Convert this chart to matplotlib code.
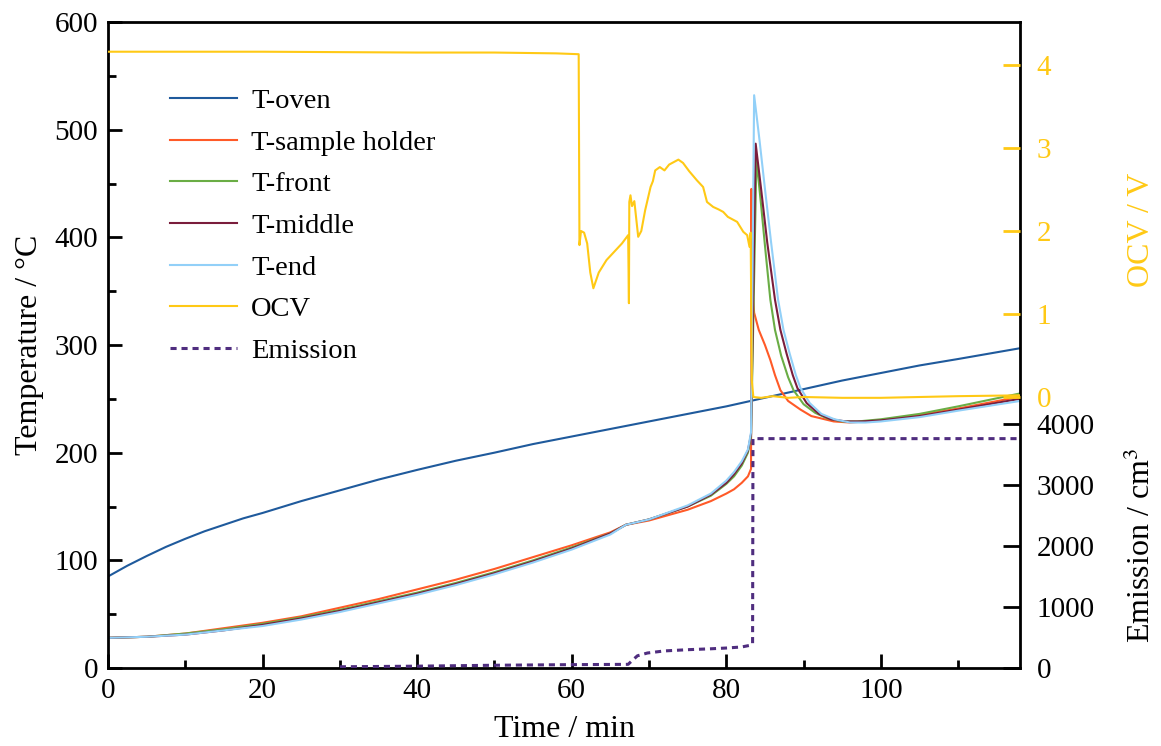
import matplotlib
matplotlib.use("Agg")
import matplotlib.pyplot as plt
from matplotlib.ticker import MultipleLocator

plt.rcParams['font.family'] = ['Liberation Serif', 'DejaVu Serif']
plt.rcParams['mathtext.fontset'] = 'stix'

# ---------------- data ----------------
oven_t = [0, 2.5, 5, 7.5, 10, 12.5, 15, 17.5, 20, 25, 30, 35, 40, 45, 50, 55, 60, 65, 70, 75, 80,
          85, 90, 95, 100, 105, 110, 118]
oven_v = [85, 95, 104, 112.5, 120, 127, 133, 139, 144, 155, 165, 175, 184, 192.5, 200, 208, 215,
          222, 229, 236, 243, 251, 259, 267, 274, 281, 287, 297]

pre_t = [0, 5, 10, 15, 20, 25, 30, 35, 40, 45, 50, 55, 60, 65, 67, 70, 75, 78, 80, 81, 82, 82.8, 83.2]
holder_pre = [28, 29, 32, 37, 42, 48, 56, 64, 73, 82, 92, 103, 114, 126, 133, 137, 147, 155, 162, 166, 172, 178, 185]
front_pre = [28, 29, 32, 36, 41, 47, 54, 62, 70, 79, 89, 100, 112, 125, 133, 138, 150, 160, 171, 178, 188, 200, 215]
middle_pre = [28, 29, 31, 35, 40, 46, 53, 61, 69, 78, 88, 99, 111, 125, 133, 138, 150, 161, 172, 180, 190, 202, 217]
end_pre = [28, 29, 31, 35, 39, 45, 52, 60, 68, 77, 87, 98, 110, 124, 133, 138, 151, 162, 174, 182, 192, 203, 219]

holder_post_t = [83.25, 83.35, 83.6, 84.2, 85.0, 85.7, 86.3, 87.0, 88.0, 89.6, 91.0, 93.9, 96, 100, 105, 110, 118]
holder_post_v = [445, 355, 330, 314, 300, 286, 272, 258, 248, 240, 234, 229, 228, 230, 235, 241, 252]

front_post_t = [83.9, 84.5, 85.1, 85.7, 86.3, 87.1, 88.0, 88.7, 90.0, 91.5, 93, 95, 97, 100, 105, 110, 118]
front_post_v = [473, 430, 385, 342, 314, 290, 270, 258, 245, 237, 232, 229, 229, 231, 236, 243, 255]

middle_post_t = [83.8, 84.5, 85.3, 86.3, 87.0, 87.8, 88.6, 89.2, 90.4, 92, 93.5, 95.5, 97.5, 100, 105, 110, 118]
middle_post_v = [487, 445, 395, 342, 314, 292, 272, 260, 246, 236, 231, 229, 229, 230, 234, 240, 250]

end_post_t = [83.6, 84.3, 85.0, 85.8, 86.7, 87.4, 88.2, 89.0, 89.6, 90.8, 92.3, 94, 96, 98, 100, 105, 110, 118]
end_post_v = [532, 490, 445, 395, 342, 314, 292, 272, 260, 246, 236, 231, 228, 228, 229, 233, 239, 248]

ocv_t = [0, 10, 20, 30, 40, 50, 58, 60.9, 61.0, 61.2, 61.6, 62.0, 62.4, 62.8, 63.5, 64.5, 65.5,
         66.5, 67.3, 67.4, 67.45, 67.6, 67.8, 68.1, 68.6, 69.0, 69.5, 70.2, 70.5, 70.8, 71.4, 72.0,
         72.6, 73.2, 73.8, 74.4, 75.2, 76.2, 77.0, 77.5, 78.3, 79.0, 79.6, 80.2, 81.4, 82.2, 82.7,
         83.0, 83.15, 83.3, 83.5, 84.5, 86, 88, 90, 95, 100, 105, 110, 118]
ocv_v = [4.16, 4.16, 4.16, 4.155, 4.15, 4.15, 4.14, 4.13, 1.83, 2.0, 1.98, 1.85, 1.5, 1.31, 1.5, 1.65, 1.75,
         1.85, 1.95, 1.13, 2.35, 2.43, 2.30, 2.36, 1.93, 2.0, 2.25, 2.53, 2.6, 2.73, 2.77, 2.73,
         2.80, 2.83, 2.86, 2.82, 2.72, 2.61, 2.53, 2.35, 2.29, 2.26, 2.23, 2.17, 2.11, 1.99, 1.95,
         1.81, 1.98, 0.2, 0.0, -0.01, 0.01, -0.01, 0.0, -0.01, -0.01, 0.0, 0.01, 0.02]

em_t = [30, 40, 50, 60, 67.3, 67.8, 68.5, 69.8, 72, 75, 78, 80.1, 82, 83.0, 83.4, 83.45, 90, 118]
em_v = [20, 30, 45, 55, 60, 120, 200, 246, 280, 300, 315, 328, 345, 370, 393, 3760, 3760, 3760]

c_oven = '#1f5a9c'
c_holder = '#ff5a28'
c_front = '#6aad45'
c_middle = '#7a1d3c'
c_end = '#92d0f8'
c_ocv = '#ffc915'
c_em = '#4f2d7f'

# ---------------- figure ----------------
fig = plt.figure(figsize=(11.61, 7.46), dpi=100)
ax = fig.add_axes([108/1161, 1-668/746, (1020-108)/1161, (668-22)/746])

l1, = ax.plot(oven_t, oven_v, color=c_oven, lw=1.5, label='T-oven')
l2, = ax.plot(pre_t + holder_post_t, holder_pre + holder_post_v, color=c_holder, lw=1.5, label='T-sample holder')
l3, = ax.plot(pre_t + front_post_t, front_pre + front_post_v, color=c_front, lw=1.5, label='T-front')
l4, = ax.plot(pre_t + middle_post_t, middle_pre + middle_post_v, color=c_middle, lw=1.5, label='T-middle')
l5, = ax.plot(pre_t + end_post_t, end_pre + end_post_v, color=c_end, lw=1.5, label='T-end')

ax.set_xlim(0, 118)
ax.set_ylim(0, 600)
ax.xaxis.set_major_locator(MultipleLocator(20))
ax.xaxis.set_minor_locator(MultipleLocator(10))
ax.yaxis.set_major_locator(MultipleLocator(100))
ax.yaxis.set_minor_locator(MultipleLocator(50))
ax.tick_params(which='major', direction='in', length=10, width=2, labelsize=21, pad=7,
               top=False, right=False)
ax.tick_params(which='minor', direction='in', length=6, width=2, top=False, right=False)
for s in ax.spines.values():
    s.set_linewidth(2)
ax.set_xlabel('Time / min', fontsize=23, labelpad=8)
ax.set_ylabel('Temperature / °C', fontsize=23, labelpad=8)

# OCV axis
ax2 = ax.twinx()
l6, = ax2.plot(ocv_t, ocv_v, color=c_ocv, lw=1.5, label='OCV')
ax2.set_ylim(-3.265, 4.518)
ax2.set_yticks([0, 1, 2, 3, 4])
ax2.tick_params(axis='y', direction='in', length=12, width=2, colors=c_ocv,
                labelcolor=c_ocv, labelsize=21, pad=12)
for s in ax2.spines.values():
    s.set_visible(False)
ax2.text(1.133, 0.678, 'OCV / V', transform=ax.transAxes, rotation=90, color=c_ocv,
         fontsize=23, ha='center', va='center')

# Emission axis
ax3 = ax.twinx()
l7, = ax3.plot(em_t, em_v, color=c_em, lw=2.2, ls=(0, (2, 1.6)), label='Emission')
ax3.set_ylim(0, 10590)
ax3.set_yticks([0, 1000, 2000, 3000, 4000])
ax3.tick_params(axis='y', direction='in', length=12, width=2, colors='black',
                labelsize=21, pad=12)
for s in ax3.spines.values():
    s.set_visible(False)
ax3.text(1.133, 0.19, 'Emission / cm$^3$', transform=ax.transAxes, rotation=90,
         color='black', fontsize=23, ha='center', va='center')

ax.legend(handles=[l1, l2, l3, l4, l5, l6, l7], loc='upper left',
          bbox_to_anchor=(0.04, 0.937), frameon=False, fontsize=20.5,
          handlelength=2.35, handletextpad=0.5, labelspacing=0.55)

fig.savefig('out.png', dpi=100)
